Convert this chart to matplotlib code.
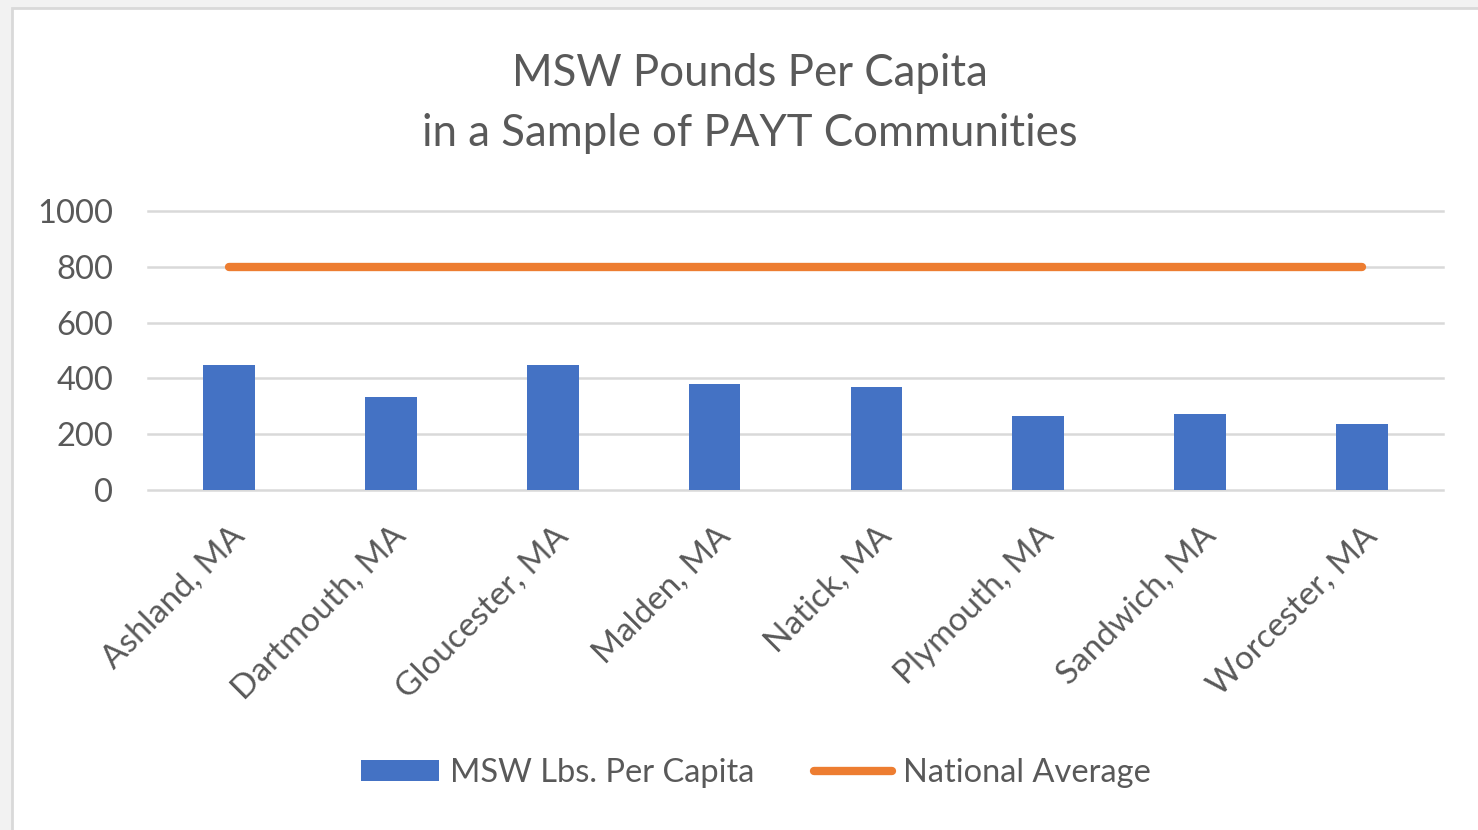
import matplotlib.pyplot as plt
from matplotlib.patches import Rectangle
from matplotlib.lines import Line2D
from matplotlib.patches import Patch

# data
towns = ['Ashland, MA', 'Dartmouth, MA', 'Gloucester, MA', 'Malden, MA',
         'Natick, MA', 'Plymouth, MA', 'Sandwich, MA', 'Worcester, MA']
msw_per_capita = [448, 333, 448, 380, 370, 265, 272, 236]
national_avg = [800, 800, 800, 800, 800, 800, 800, 800]
y_ticks = [0, 200, 400, 600, 800, 1000]

plt.rcParams['font.family'] = ['Lato', 'DejaVu Sans']
blue = '#4472C4'
orange = '#ED7D31'
grey_txt = '#595959'

fig = plt.figure(figsize=(14.78, 8.30), dpi=100)
fig.patch.set_facecolor('#f2f2f2')
# chart frame
fig.add_artist(Rectangle((12 / 1478, -0.1), 1.2, 0.1 + 822 / 830,
                         transform=fig.transFigure, facecolor='white',
                         edgecolor='#d9d9d9', linewidth=2, zorder=0))

ax = fig.add_axes([148 / 1478, 1 - 490 / 830, (1443 - 148) / 1478, (490 - 211) / 830])
ax.set_facecolor('none')
x = range(len(towns))
ax.bar(x, msw_per_capita, width=0.32, color=blue, zorder=3)
ax.plot(x, national_avg, color=orange, linewidth=6, solid_capstyle='round', zorder=4)

ax.set_xlim(-0.5, len(towns) - 0.5)
ax.set_ylim(0, 1000)
ax.set_yticks(y_ticks)
ax.set_yticklabels([str(v) for v in y_ticks], fontsize=23.5, color=grey_txt)
ax.set_xticks(list(x))
ax.set_xticklabels(towns, rotation=45, ha='right', rotation_mode='anchor',
                   fontsize=24, color=grey_txt)
ax.tick_params(axis='both', length=0)
ax.tick_params(axis='x', pad=22)
ax.tick_params(axis='y', pad=25)
for s in ax.spines.values():
    s.set_visible(False)
for v in y_ticks:
    ax.axhline(v, color='#d9d9d9', linewidth=1.8, zorder=1, clip_on=False)

fig.text(750 / 1478, 1 - 74 / 830, 'MSW Pounds Per Capita', ha='center', va='center',
         fontsize=31.5, color=grey_txt)
fig.text(750 / 1478, 1 - 133 / 830, 'in a Sample of PAYT Communities', ha='center',
         va='center', fontsize=31.5, color=grey_txt)

handles = [Patch(facecolor=blue, edgecolor='none'),
           Line2D([], [], color=orange, linewidth=6, solid_capstyle='round')]
fig.legend(handles, ['MSW Lbs. Per Capita', 'National Average'], loc='center',
           bbox_to_anchor=(756 / 1478, 1 - 773 / 830), ncol=2, frameon=False,
           fontsize=23.5, labelcolor=grey_txt, handlelength=2.4, handleheight=0.6,
           handletextpad=0.35, columnspacing=1.8)

fig.savefig('out.png', dpi=100, facecolor=fig.get_facecolor())
